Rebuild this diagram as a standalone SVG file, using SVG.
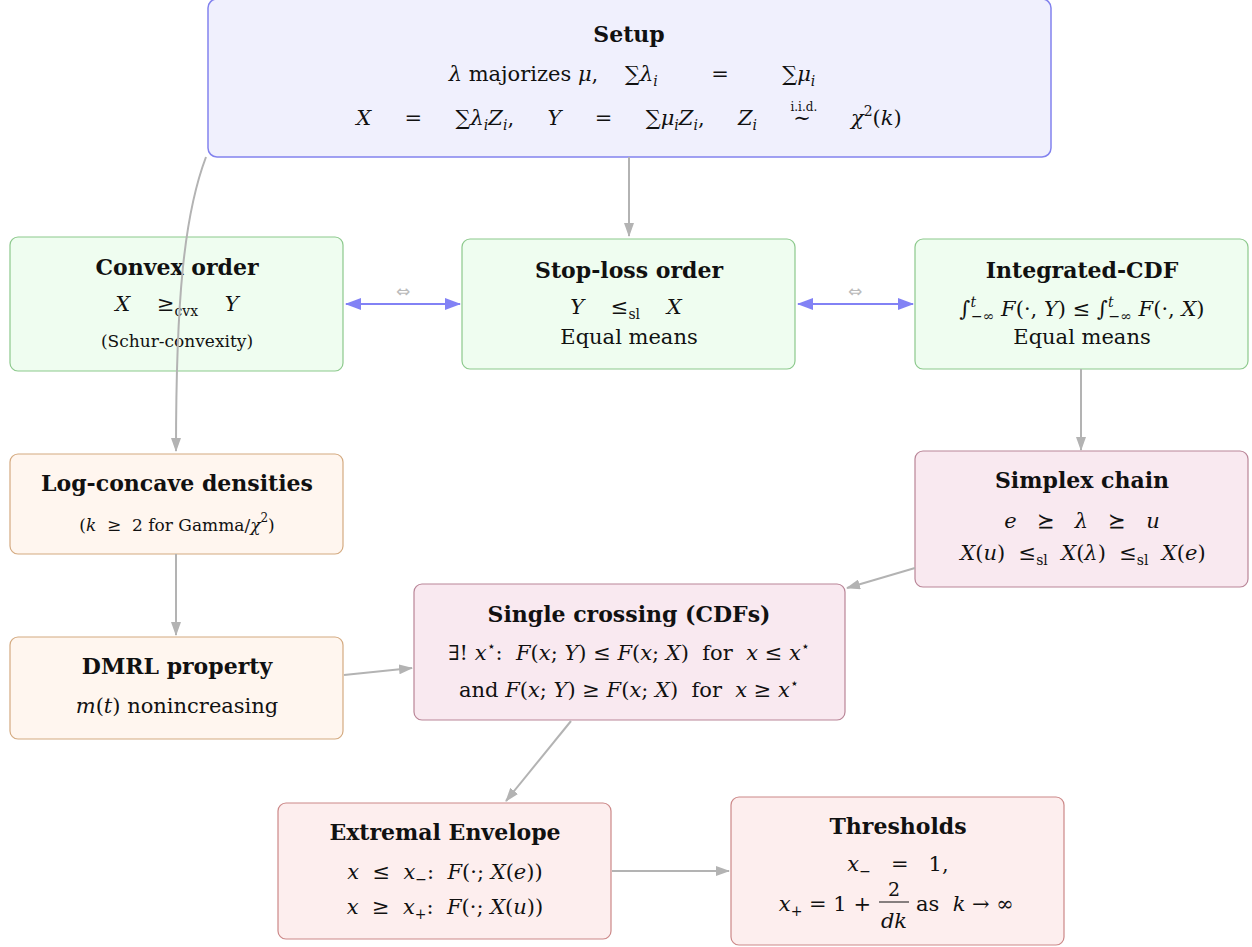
<svg xmlns="http://www.w3.org/2000/svg" width="1252" height="947" viewBox="0 0 1252 947" xml:space="preserve">
<style>
text{font-family:"DejaVu Serif","Liberation Serif",serif;font-size:21px;fill:#111;text-anchor:middle;white-space:pre}
.t{font-weight:bold;font-size:22px}
.i{font-style:italic}
.s{font-size:17px}
.sub{font-size:14px;baseline-shift:-5px}
.sup{font-size:14px;baseline-shift:9px}
.conn{fill:none;stroke:#b3b3b3;stroke-width:2}
.bi{fill:none;stroke:#8282f5;stroke-width:2}
.blue{fill:#f0f0fd;stroke:#8282ee;stroke-width:1.5}
.green{fill:#effdf0;stroke:#8cc98c;stroke-width:1.2}
.orange{fill:#fff6ef;stroke:#d4aa80;stroke-width:1.2}
.pink{fill:#f9e9f0;stroke:#b98597;stroke-width:1.2}
.red{fill:#fdeeee;stroke:#cc8888;stroke-width:1.2}
.eq{fill:#bbb;font-size:17px;font-family:"DejaVu Sans",sans-serif}
</style>
<defs>
<marker id="ag" markerWidth="14" markerHeight="10" refX="13" refY="5" orient="auto" markerUnits="userSpaceOnUse"><path d="M0,0 L14,5 L0,10 Z" fill="#b3b3b3"/></marker>
<marker id="ab" markerWidth="16" markerHeight="12" refX="15" refY="6" orient="auto" markerUnits="userSpaceOnUse"><path d="M0,0 L16,6 L0,12 Z" fill="#8282f5"/></marker>
<marker id="abs" markerWidth="16" markerHeight="12" refX="1" refY="6" orient="auto" markerUnits="userSpaceOnUse"><path d="M16,0 L0,6 L16,12 Z" fill="#8282f5"/></marker>
</defs>

<g id="setup">
<rect class="blue" x="208" y="-1" width="843" height="158" rx="9"/>
<text class="t" x="629" y="42">Setup</text>
<text x="632" y="81"><tspan class="i">λ</tspan> majorizes <tspan class="i">μ</tspan>,    ∑<tspan class="i">λ</tspan><tspan class="sub i">i</tspan>        =        ∑<tspan class="i">μ</tspan><tspan class="sub i">i</tspan></text>
<text x="629" y="125"><tspan class="i">X</tspan>     =     ∑<tspan class="i">λ</tspan><tspan class="sub i">i</tspan><tspan class="i">Z</tspan><tspan class="sub i">i</tspan>,     <tspan class="i">Y</tspan>     =     ∑<tspan class="i">μ</tspan><tspan class="sub i">i</tspan><tspan class="i">Z</tspan><tspan class="sub i">i</tspan>,     <tspan class="i">Z</tspan><tspan class="sub i">i</tspan>     <tspan class="sup" style="font-size:12px;baseline-shift:14px">i.i.d.</tspan><tspan dx="-24">∼</tspan>      <tspan class="i">χ</tspan><tspan class="sup">2</tspan>(<tspan class="i">k</tspan>)</text>
</g>

<g id="convex">
<rect class="green" x="10" y="237" width="333" height="134" rx="8"/>
<text class="t" x="177" y="275">Convex order</text>
<text x="177" y="311"><tspan class="i">X</tspan>    ≥<tspan class="sub">cvx</tspan>    <tspan class="i">Y</tspan></text>
<text class="s" x="177" y="347">(Schur-convexity)</text>
</g>

<g id="stoploss">
<rect class="green" x="462" y="239" width="333" height="130" rx="8"/>
<text class="t" x="629" y="278">Stop-loss order</text>
<text x="626" y="314"><tspan class="i">Y</tspan>    ≤<tspan class="sub">sl</tspan>    <tspan class="i">X</tspan></text>
<text x="629" y="344">Equal means</text>
</g>

<g id="integrated">
<rect class="green" x="915" y="239" width="333" height="130" rx="8"/>
<text class="t" x="1082" y="278">Integrated-CDF</text>
<text x="1082" y="316">∫<tspan class="sup i">t</tspan><tspan class="sub" dx="-5">−∞</tspan> <tspan class="i">F</tspan>(·, <tspan class="i">Y</tspan>) ≤ ∫<tspan class="sup i">t</tspan><tspan class="sub" dx="-5">−∞</tspan> <tspan class="i">F</tspan>(·, <tspan class="i">X</tspan>)</text>
<text x="1082" y="344">Equal means</text>
</g>

<g id="logconcave">
<rect class="orange" x="10" y="454" width="333" height="100" rx="8"/>
<text class="t" x="177" y="491">Log-concave densities</text>
<text class="s" x="177" y="531">(<tspan class="i">k</tspan>  ≥  2 for Gamma/<tspan class="i">χ</tspan><tspan class="sup" style="font-size:12px">2</tspan>)</text>
</g>

<g id="dmrl">
<rect class="orange" x="10" y="637" width="333" height="102" rx="8"/>
<text class="t" x="177" y="674">DMRL property</text>
<text x="177" y="713"><tspan class="i">m</tspan>(<tspan class="i">t</tspan>) nonincreasing</text>
</g>

<g id="simplex">
<rect class="pink" x="915" y="451" width="333" height="136" rx="8"/>
<text class="t" x="1082" y="488">Simplex chain</text>
<text x="1082" y="528"><tspan class="i">e</tspan>   ⪰   <tspan class="i">λ</tspan>   ⪰   <tspan class="i">u</tspan></text>
<text x="1083" y="560"><tspan class="i">X</tspan>(<tspan class="i">u</tspan>)  ≤<tspan class="sub">sl</tspan>  <tspan class="i">X</tspan>(<tspan class="i">λ</tspan>)  ≤<tspan class="sub">sl</tspan>  <tspan class="i">X</tspan>(<tspan class="i">e</tspan>)</text>
</g>

<g id="crossing">
<rect class="pink" x="414" y="584" width="431" height="136" rx="8"/>
<text class="t" x="629" y="622">Single crossing (CDFs)</text>
<text x="629" y="660">∃! <tspan class="i">x</tspan><tspan class="sup">⋆</tspan>:  <tspan class="i">F</tspan>(<tspan class="i">x</tspan>; <tspan class="i">Y</tspan>) ≤ <tspan class="i">F</tspan>(<tspan class="i">x</tspan>; <tspan class="i">X</tspan>)  for  <tspan class="i">x</tspan> ≤ <tspan class="i">x</tspan><tspan class="sup">⋆</tspan></text>
<text x="629" y="697">and <tspan class="i">F</tspan>(<tspan class="i">x</tspan>; <tspan class="i">Y</tspan>) ≥ <tspan class="i">F</tspan>(<tspan class="i">x</tspan>; <tspan class="i">X</tspan>)  for  <tspan class="i">x</tspan> ≥ <tspan class="i">x</tspan><tspan class="sup">⋆</tspan></text>
</g>

<g id="extremal">
<rect class="red" x="278" y="803" width="333" height="136" rx="8"/>
<text class="t" x="445" y="840">Extremal Envelope</text>
<text x="445" y="879"><tspan class="i">x</tspan>  ≤  <tspan class="i">x</tspan><tspan class="sub">−</tspan>:  <tspan class="i">F</tspan>(·; <tspan class="i">X</tspan>(<tspan class="i">e</tspan>))</text>
<text x="445" y="914"><tspan class="i">x</tspan>  ≥  <tspan class="i">x</tspan><tspan class="sub">+</tspan>:  <tspan class="i">F</tspan>(·; <tspan class="i">X</tspan>(<tspan class="i">u</tspan>))</text>
</g>

<g id="thresholds">
<rect class="red" x="731" y="797" width="333" height="148" rx="8"/>
<text class="t" x="898" y="834">Thresholds</text>
<text x="898" y="871"><tspan class="i">x</tspan><tspan class="sub">−</tspan>   =   1,</text>
<text x="871" y="911" style="text-anchor:end"><tspan class="i">x</tspan><tspan class="sub">+</tspan> = 1 +</text>
<text x="894" y="896" style="font-size:19px">2</text>
<line x1="879" y1="902" x2="909" y2="902" stroke="#111" stroke-width="1"/>
<text class="i" x="894" y="928">dk</text>
<text x="916" y="911" style="text-anchor:start">as  <tspan class="i">k</tspan> → ∞</text>
</g>

<g id="connectors">
<path class="conn" d="M629,157 L629,236" marker-end="url(#ag)"/>
<path class="conn" d="M206,157 C184,215 176,300 176,451" marker-end="url(#ag)"/>
<path class="conn" d="M1081,369 L1081,450" marker-end="url(#ag)"/>
<path class="conn" d="M176,554 L176,635" marker-end="url(#ag)"/>
<path class="conn" d="M344,675 L412,668" marker-end="url(#ag)"/>
<path class="conn" d="M915,568 L847,588" marker-end="url(#ag)"/>
<path class="conn" d="M571,721 L506,801" marker-end="url(#ag)"/>
<path class="conn" d="M612,871 L729,871" marker-end="url(#ag)"/>
<path class="bi" d="M346,304 L460,304" marker-start="url(#abs)" marker-end="url(#ab)"/>
<text class="eq" x="403" y="297">⇔</text>
<path class="bi" d="M798,304 L913,304" marker-start="url(#abs)" marker-end="url(#ab)"/>
<text class="eq" x="855" y="297">⇔</text>
</g>
</svg>
